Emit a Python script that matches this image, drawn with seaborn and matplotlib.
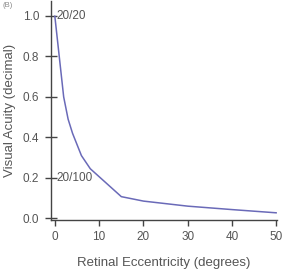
import pandas as pd
import matplotlib
matplotlib.use("Agg")
import matplotlib.pyplot as plt
import seaborn as sns

# values
eccentricity = [0, 1, 2, 3, 4, 6, 8, 15, 20, 30, 40, 50]
acuity = [1.0, 0.8, 0.6, 0.49, 0.42, 0.31, 0.245, 0.107, 0.085, 0.06, 0.043, 0.027]
y_ticks = [0.0, 0.2, 0.4, 0.6, 0.8, 1.0]
x_ticks = [0, 10, 20, 30, 40, 50]
snellen_labels = [("20/20", 1.0), ("20/100", 0.2)]

sns.set_style("ticks")
plt.rcParams['font.family'] = ['Liberation Sans', 'DejaVu Sans']

df = pd.DataFrame({'ecc': eccentricity, 'va': acuity})

fig = plt.figure(figsize=(2.82, 2.70), dpi=100)
ax = fig.add_axes([0.181, 0.187, 0.801, 0.81])
sns.lineplot(data=df, x='ecc', y='va', ax=ax, color='#6a6ab8', linewidth=1.1)

ax.set_xlim(-0.85, 50.1)
ax.set_ylim(-0.006, 1.075)
ax.set_xticks(x_ticks)
ax.set_yticks(y_ticks)
ax.set_yticklabels([f"{v:.1f}" for v in y_ticks])

grey = '#555555'
for side in ('top', 'right'):
    ax.spines[side].set_visible(False)
for side in ('left', 'bottom'):
    ax.spines[side].set_color('#444444')
    ax.spines[side].set_linewidth(1.0)
ax.tick_params(axis='y', left=True, direction='inout', length=8, width=1.0, color='#444444',
               labelsize=8.5, labelcolor=grey, pad=4.5)
ax.tick_params(axis='x', bottom=True, direction='out', length=4, width=1.0, color='#444444',
               labelsize=8.5, labelcolor=grey, pad=4)

ax.set_xlabel('Retinal Eccentricity (degrees)', fontsize=9.5, color=grey, labelpad=10)
ax.set_ylabel('Visual Acuity (decimal)', fontsize=9.5, color=grey, labelpad=5)

for txt, yv in snellen_labels:
    ax.text(0.3, yv, txt, fontsize=8.5, color=grey, va='center', ha='left')

fig.text(0.008, 0.992, '(B)', fontsize=5.5, color='#888888', va='top', ha='left')

fig.savefig('out.png', dpi=100)
